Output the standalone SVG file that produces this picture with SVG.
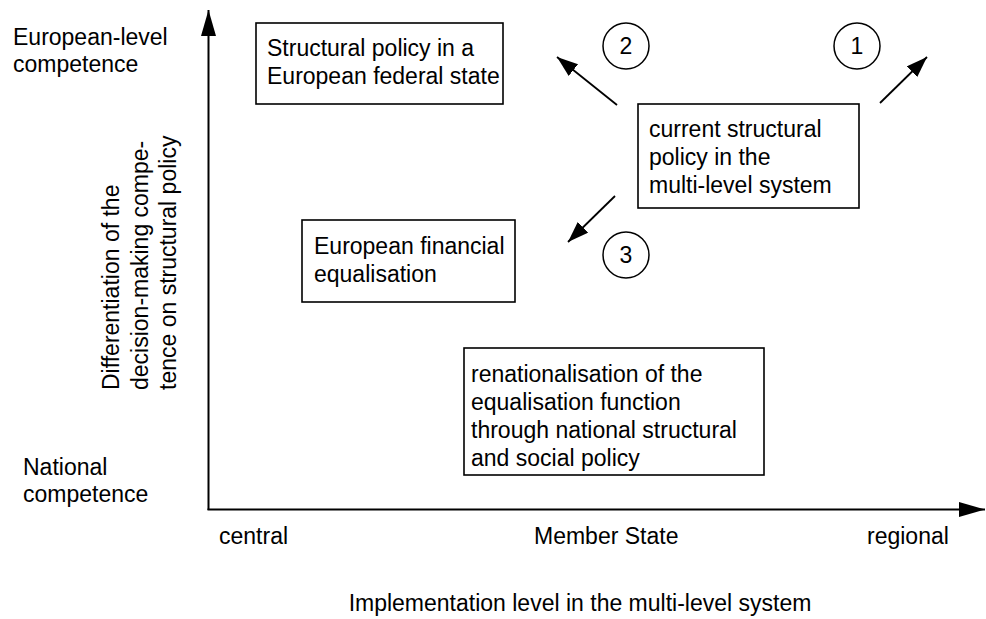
<svg xmlns="http://www.w3.org/2000/svg" width="986" height="619" viewBox="0 0 986 619">
<defs>
<style>
text{font-family:"Liberation Sans",Arial,sans-serif;font-size:23px;fill:#000}
.box{fill:#fff;stroke:#000;stroke-width:1.6}
.circ{fill:#fff;stroke:#000;stroke-width:1.5}
.axis{stroke:#000;stroke-width:2;fill:none}
.arr{stroke:#000;stroke-width:1.8;fill:none}
.num{text-anchor:middle}
</style>
<marker id="ah" markerUnits="userSpaceOnUse" markerWidth="24" markerHeight="16" refX="21" refY="7.5" orient="auto">
<path d="M0,0 L21,7.5 L0,15 Z" fill="#000"/>
</marker>
<marker id="ax" markerUnits="userSpaceOnUse" markerWidth="28" markerHeight="16" refX="26" refY="7.5" orient="auto">
<path d="M0,0 L26,7.5 L0,15 Z" fill="#000"/>
</marker>
</defs>
<rect width="986" height="619" fill="#fff"/>
<g id="axes">
<line class="axis" x1="208.5" y1="510" x2="208.5" y2="10" marker-end="url(#ax)"/>
<line class="axis" x1="207.5" y1="509.5" x2="985" y2="509.5" marker-end="url(#ax)"/>
</g>
<g id="axis-labels">
<text x="13" y="45">European-level</text>
<text x="13" y="72">competence</text>
<text x="23" y="475">National</text>
<text x="23" y="502">competence</text>
<text x="219" y="544">central</text>
<text x="534" y="544">Member State</text>
<text x="867" y="544">regional</text>
<text x="580" y="611" text-anchor="middle">Implementation level in the multi-level system</text>
<g transform="translate(119,390) rotate(-90)">
<text x="0" y="0">Differentiation of the</text>
<text x="0" y="28.5">decision-making compe-</text>
<text x="0" y="57">tence on structural policy</text>
</g>
</g>
<g id="connectors">
<line class="arr" x1="880" y1="103" x2="927" y2="57" marker-end="url(#ah)"/>
<line class="arr" x1="617" y1="105" x2="557" y2="57" marker-end="url(#ah)"/>
<line class="arr" x1="615" y1="196" x2="568" y2="242" marker-end="url(#ah)"/>
</g>
<g id="node-federal">
<rect class="box" x="256" y="23" width="247" height="81"/>
<text x="267" y="56">Structural policy in a</text>
<text x="267" y="84">European federal state</text>
</g>
<g id="node-current">
<rect class="box" x="638" y="104" width="221" height="104"/>
<text x="649" y="137">current structural</text>
<text x="649" y="165">policy in the</text>
<text x="649" y="193">multi-level system</text>
</g>
<g id="node-financial">
<rect class="box" x="302" y="220" width="213" height="82"/>
<text x="314" y="254">European financial</text>
<text x="314" y="282">equalisation</text>
</g>
<g id="node-renational">
<rect class="box" x="464" y="348" width="300" height="127"/>
<text x="471" y="382">renationalisation of the</text>
<text x="471" y="410">equalisation function</text>
<text x="471" y="438">through national structural</text>
<text x="471" y="466">and social policy</text>
</g>
<g id="marker-1">
<circle class="circ" cx="857" cy="46" r="23"/>
<text class="num" x="857" y="54">1</text>
</g>
<g id="marker-2">
<circle class="circ" cx="626" cy="46" r="23"/>
<text class="num" x="626" y="54">2</text>
</g>
<g id="marker-3">
<circle class="circ" cx="626" cy="255" r="23"/>
<text class="num" x="626" y="263">3</text>
</g>
</svg>
